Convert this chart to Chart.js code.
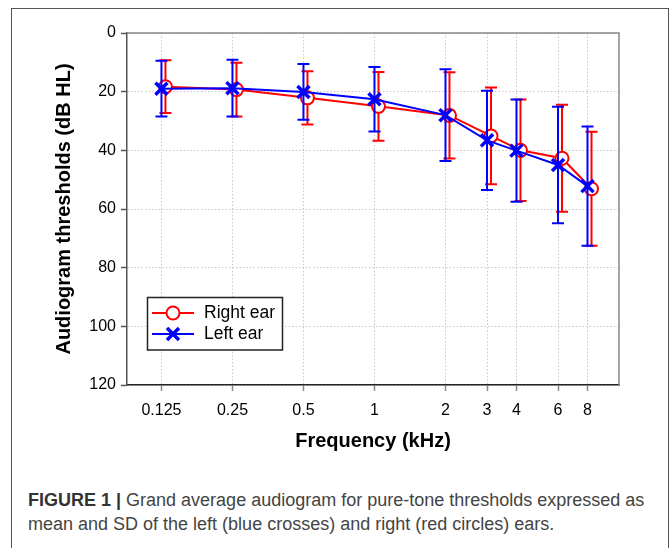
<!DOCTYPE html>
<html><head><meta charset="utf-8">
<script src="https://cdn.jsdelivr.net/npm/chart.js@4"></script>
<style>
html,body{margin:0;padding:0;background:#fff;width:670px;height:548px;overflow:hidden;}
#frame{position:absolute;left:11px;top:8px;width:656px;height:600px;border:1.5px solid #555;border-bottom:none;}
#wrap{position:absolute;left:0;top:0;width:670px;height:460px;}
#caption{position:absolute;left:28px;top:488px;font-family:"Liberation Sans",Arial,sans-serif;font-size:18px;line-height:24px;color:#444;white-space:nowrap;}
#caption b{color:#333;}
</style></head><body>
<div id="frame"></div>
<div id="wrap"><canvas id="c" width="670" height="460"></canvas></div>
<div id="caption"><b>FIGURE 1 |</b> Grand average audiogram for pure-tone thresholds expressed as<br>mean and SD of the left (blue crosses) and right (red circles) ears.</div>
<script>
const frequencies = [0.125, 0.25, 0.5, 1, 2, 3, 4, 6, 8];
const tickLabels = ['0.125', '0.25', '0.5', '1', '2', '3', '4', '6', '8'];
const yTicks = [0, 20, 40, 60, 80, 100, 120];
const rightMean = [18.3, 19.3, 22.1, 25.0, 28.1, 35.1, 40.0, 42.7, 53.1];
const rightSD   = [9.0, 9.2, 9.1, 11.7, 14.7, 16.5, 17.3, 18.2, 19.4];
const leftMean  = [19.0, 18.8, 20.1, 22.6, 28.0, 36.6, 40.1, 45.0, 52.2];
const leftSD    = [9.5, 9.7, 9.5, 11.0, 15.6, 16.9, 17.4, 19.9, 20.3];
const seriesNames = ['Right ear', 'Left ear'];

const FONT = '"Liberation Sans", Arial, Helvetica, sans-serif';

const errorBars = {
  id: 'errorBars',
  beforeDatasetDraw(chart, args) {
    const ds = chart.data.datasets[args.index];
    const ctx = chart.ctx;
    const ys = chart.scales.y;
    ctx.save();
    ctx.translate(ds.pxShift || 0, 0);
    ctx.strokeStyle = ds.borderColor;
    ctx.lineWidth = 2;
    args.meta.data.forEach((pt, i) => {
      const m = ds.data[i].y, s = ds.sd[i];
      const y1 = ys.getPixelForValue(m - s), y2 = ys.getPixelForValue(m + s);
      ctx.beginPath();
      ctx.moveTo(pt.x, y1); ctx.lineTo(pt.x, y2);
      ctx.moveTo(pt.x - 6, y1); ctx.lineTo(pt.x + 6, y1);
      ctx.moveTo(pt.x - 6, y2); ctx.lineTo(pt.x + 6, y2);
      ctx.stroke();
    });
  },
  afterDatasetDraw(chart) { chart.ctx.restore(); }
};

const frameLegend = {
  id: 'frameLegend',
  afterDraw(chart) {
    const ctx = chart.ctx, a = chart.chartArea;
    ctx.save();
    ctx.strokeStyle = '#888'; ctx.lineWidth = 1.5;
    ctx.beginPath();
    ctx.moveTo(a.left, a.top); ctx.lineTo(a.right, a.top); ctx.lineTo(a.right, a.bottom);
    ctx.stroke();
    const lx = 147.5, ly = 297.5, lw = 135, lh = 52.5;
    ctx.fillStyle = '#fff'; ctx.fillRect(lx, ly, lw, lh);
    ctx.strokeStyle = '#222'; ctx.lineWidth = 1.5; ctx.strokeRect(lx, ly, lw, lh);
    const rows = [313, 334];
    chart.data.datasets.forEach((ds, i) => {
      const yy = rows[i];
      ctx.strokeStyle = ds.borderColor; ctx.lineWidth = 2;
      ctx.beginPath(); ctx.moveTo(152, yy); ctx.lineTo(194, yy); ctx.stroke();
      if (ds.pointStyle === 'circle') {
        ctx.fillStyle = '#fff'; ctx.lineWidth = 2;
        ctx.beginPath(); ctx.arc(173, yy, 6.5, 0, Math.PI * 2); ctx.fill(); ctx.stroke();
      } else {
        ctx.lineWidth = 3.5; const d = 6;
        ctx.beginPath();
        ctx.moveTo(173 - d, yy - d); ctx.lineTo(173 + d, yy + d);
        ctx.moveTo(173 - d, yy + d); ctx.lineTo(173 + d, yy - d);
        ctx.stroke();
      }
      ctx.fillStyle = '#000'; ctx.font = '17.5px ' + FONT; ctx.textBaseline = 'middle'; ctx.textAlign = 'left';
      ctx.fillText(seriesNames[i], 204, yy + 0.5);
    });
    ctx.restore();
  }
};

const gridCommon = { color: '#c8c8c8', lineWidth: 1, tickLength: 6, tickWidth: 1.5, tickBorderDash: [] };

new Chart(document.getElementById('c'), {
  type: 'line',
  data: {
    datasets: [
      { label: seriesNames[0], data: frequencies.map((f, i) => ({ x: f, y: rightMean[i] })), sd: rightSD, pxShift: 4,
        borderColor: '#ff0000', backgroundColor: '#ffffff', borderWidth: 2, pointStyle: 'circle', pointRadius: 6.5,
        pointBorderWidth: 2, pointBackgroundColor: '#ffffff', pointBorderColor: '#ff0000', order: 2, tension: 0 },
      { label: seriesNames[1], data: frequencies.map((f, i) => ({ x: f, y: leftMean[i] })), sd: leftSD, pxShift: 0,
        borderColor: '#0000ff', backgroundColor: '#0000ff', borderWidth: 2, pointStyle: 'crossRot', pointRadius: 8.5,
        pointBorderWidth: 3.5, pointBorderColor: '#0000ff', order: 1, tension: 0 }
    ]
  },
  options: {
    responsive: false, animation: false, devicePixelRatio: 1,
    layout: { padding: { top: 33, right: 51, left: 0, bottom: 0 } },
    plugins: { legend: { display: false }, tooltip: { enabled: false } },
    scales: {
      x: {
        type: 'logarithmic', min: 0.0893, max: 10.88,
        afterBuildTicks: s => { s.ticks = frequencies.map(v => ({ value: v })); },
        afterFit: s => { s.height = 75; },
        ticks: { autoSkip: false, maxRotation: 0, minRotation: 0, color: '#000', font: { family: FONT, size: 16 }, padding: 10,
          callback: (v, i) => tickLabels[i] },
        grid: Object.assign({}, gridCommon, { tickColor: '#888' }),
        border: { display: true, color: '#222', width: 1.5, dash: [1.5, 2] },
        title: { display: true, text: 'Frequency (kHz)', color: '#000', font: { family: FONT, size: 20, weight: 'bold' }, padding: { top: 0, bottom: 7 } }
      },
      y: {
        reverse: true, min: 0, max: 120,
        afterBuildTicks: s => { s.ticks = yTicks.map(v => ({ value: v })); },
        afterFit: s => { s.width = 127; },
        ticks: { color: '#000', font: { family: FONT, size: 16 }, padding: 5, callback: v => String(v) },
        grid: Object.assign({}, gridCommon, { tickColor: '#555' }),
        border: { display: true, color: '#555', width: 1.5, dash: [1.5, 2] },
        title: { display: true, text: 'Audiogram thresholds (dB HL)', color: '#000', font: { family: FONT, size: 20, weight: 'bold' }, padding: { top: 52, bottom: 0 } }
      }
    }
  },
  plugins: [errorBars, frameLegend]
});
</script>
</body></html>
